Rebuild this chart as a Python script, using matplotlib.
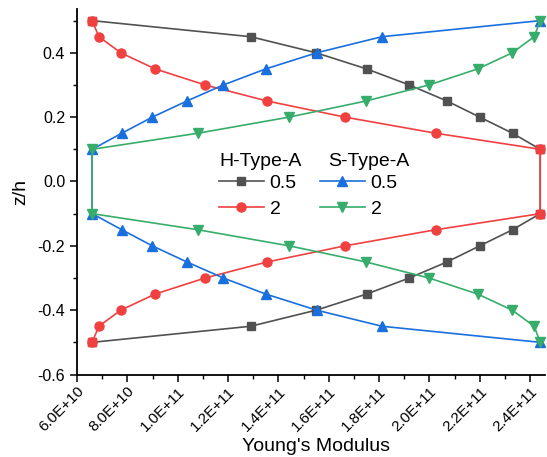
import matplotlib
matplotlib.use("Agg")
import matplotlib.pyplot as plt
from matplotlib.ticker import MultipleLocator, FuncFormatter
from matplotlib.lines import Line2D

plt.rcParams['font.family'] = ['Liberation Sans', 'DejaVu Sans']

# z/h levels (top half, bottom half mirrored)
z_h = [0.5, 0.45, 0.4, 0.35, 0.3, 0.25, 0.2, 0.15, 0.1,
       -0.1, -0.15, -0.2, -0.25, -0.3, -0.35, -0.4, -0.45, -0.5]

# H-Type-A, n = 0.5
h_a_05 = [6.6e10, 1.29e11, 1.55e11, 1.75e11, 1.92e11, 2.07e11, 2.2e11, 2.33e11, 2.44e11,
          2.44e11, 2.33e11, 2.2e11, 2.07e11, 1.92e11, 1.75e11, 1.55e11, 1.29e11, 6.6e10]
# H-Type-A, n = 2
h_a_2 = [6.6e10, 6.87e10, 7.74e10, 9.1e10, 1.109e11, 1.356e11, 1.665e11, 2.025e11, 2.44e11,
         2.44e11, 2.025e11, 1.665e11, 1.356e11, 1.109e11, 9.1e10, 7.74e10, 6.87e10, 6.6e10]
# S-Type-A, n = 0.5
s_a_05 = [2.44e11, 1.811e11, 1.552e11, 1.35e11, 1.181e11, 1.036e11, 8.99e10, 7.78e10, 6.6e10,
          6.6e10, 7.78e10, 8.99e10, 1.036e11, 1.181e11, 1.35e11, 1.552e11, 1.811e11, 2.44e11]
# S-Type-A, n = 2
s_a_2 = [2.44e11, 2.416e11, 2.329e11, 2.192e11, 1.998e11, 1.747e11, 1.442e11, 1.08e11, 6.6e10,
         6.6e10, 1.08e11, 1.442e11, 1.747e11, 1.998e11, 2.192e11, 2.329e11, 2.416e11, 2.44e11]

x_ticks = [6.0e10, 8.0e10, 1.0e11, 1.2e11, 1.4e11, 1.6e11, 1.8e11, 2.0e11, 2.2e11, 2.4e11]
y_ticks = [-0.6, -0.4, -0.2, 0.0, 0.2, 0.4]

c_gray = '#515151'
c_red = '#F14040'
c_blue = '#1A6FDF'
c_green = '#37AD6B'

fig = plt.figure(figsize=(5.47, 4.57), dpi=100)
ax = fig.add_axes([0.1408, 0.1805, 0.856, 0.799])

lw = 1.2
ax.plot(h_a_05, z_h, color=c_gray, lw=lw, marker='s', ms=5.5, zorder=3)
ax.plot(h_a_2, z_h, color=c_red, lw=lw, marker='o', ms=6.5, zorder=4)
# shared end points appear as red squares
ends = [0, 8, 9, 17]
ax.plot([h_a_2[i] for i in ends], [z_h[i] for i in ends], ls='none', marker='s',
        ms=6, color=c_red, zorder=4)
ax.plot(s_a_05, z_h, color=c_blue, lw=lw, marker='^', ms=7, zorder=5)
ax.plot(s_a_2, z_h, color=c_green, lw=lw, marker='v', ms=7, zorder=6)

ax.set_xlim(6.0e10, 2.46e11)
ax.set_ylim(-0.6, 0.535)
ax.set_xticks(x_ticks)
ax.xaxis.set_minor_locator(MultipleLocator(1e10))
ax.set_yticks(y_ticks)
ax.yaxis.set_minor_locator(MultipleLocator(0.1))

def fmt(v, pos):
    s = '%.1E' % v
    mant, exp = s.split('E')
    return '%sE+%d' % (mant, int(exp))

ax.xaxis.set_major_formatter(FuncFormatter(fmt))
ax.yaxis.set_major_formatter(FuncFormatter(lambda v, p: '%.1f' % v))

for sp in ['top', 'right']:
    ax.spines[sp].set_visible(False)
for sp in ['left', 'bottom']:
    ax.spines[sp].set_linewidth(1.3)

ax.tick_params(which='major', direction='out', length=5, width=1.1, labelsize=11.5)
ax.tick_params(axis='x', which='major', pad=2, labelsize=11)
ax.tick_params(which='minor', direction='out', length=3, width=1.0)
for lab in ax.get_xticklabels():
    lab.set_rotation(45)
    lab.set_ha('right')
    lab.set_va('top')
    lab.set_rotation_mode('anchor')

ax.set_xlabel("Young's Modulus", fontsize=14)
ax.xaxis.set_label_coords(0.51, -0.174)
ax.xaxis.label.set_va('top')
ax.set_ylabel('z/h', fontsize=14, labelpad=6)

# legend
handles = [Line2D([], [], color=c_gray, lw=lw, marker='s', ms=5.5),
           Line2D([], [], color=c_red, lw=lw, marker='o', ms=6.5),
           Line2D([], [], color=c_blue, lw=lw, marker='^', ms=7),
           Line2D([], [], color=c_green, lw=lw, marker='v', ms=7)]
labels = ['0.5', '2', '0.5', '2']
leg = ax.legend(handles, labels, ncol=2, frameon=False, fontsize=14,
                loc='upper left', bbox_to_anchor=(219 / 547, 1 - 174 / 457),
                bbox_transform=fig.transFigure, borderpad=0, borderaxespad=0,
                handlelength=2.3, handletextpad=0.3, columnspacing=1.2,
                labelspacing=0.45)
fig.text(219 / 547, 1 - 161 / 457, 'H-Type-A', fontsize=14, va='center', ha='left')
fig.text(328 / 547, 1 - 161 / 457, 'S-Type-A', fontsize=14, va='center', ha='left')

fig.savefig('out.png', dpi=100)
